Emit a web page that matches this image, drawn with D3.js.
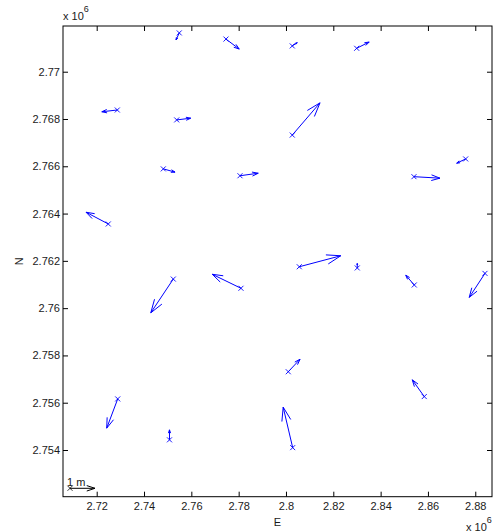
<!DOCTYPE html>
<html>
<head>
<meta charset="utf-8">
<script src="https://cdn.jsdelivr.net/npm/d3@7"></script>
<style>
  body { margin: 0; background: #fff; }
  svg text { font-family: "Liberation Sans", Arial, sans-serif; fill: #1a1a1a; }
</style>
</head>
<body>
<svg id="chart"></svg>
<script>
// station positions (m) and displacement vectors (m)
var east = [2754900, 2774640, 2802660, 2829880, 2728710, 2753810, 2802660, 2748150,
  2780560, 2854090, 2875940, 2724900, 2805620, 2830130, 2854220, 2884100, 2752370,
  2780980, 2800970, 2858440, 2802830, 2728880, 2750770];
var north = [2771640, 2771380, 2771090, 2770990, 2768380, 2767960, 2767320, 2765890,
  2765600, 2765560, 2766310, 2763560, 2761750, 2761700, 2760980, 2761470, 2761230,
  2760840, 2757310, 2756260, 2754100, 2756160, 2754430];
var du = [-0.13, 0.53, 0.20, 0.50, -0.62, 0.56, 1.11, 0.47, 0.73, 1.04, -0.36, -0.89,
  1.66, 0.00, -0.34, -0.63, -0.90, -1.15, 0.47, -0.48, -0.38, -0.44, 0.00];
var dv = [-0.28, -0.40, 0.13, 0.25, -0.07, 0.07, 1.29, -0.13, 0.10, -0.06, -0.17, 0.47,
  0.44, 0.18, 0.39, -0.96, -1.35, 0.56, 0.50, 0.67, 1.62, -1.17, 0.40];

// reference arrow
var refE = [2708720], refN = [2752380], refU = [1], refV = [0], refLabel = ["1 m"];

var xTicks = [2720000, 2740000, 2760000, 2780000, 2800000, 2820000, 2840000, 2860000, 2880000];
var xTickLabels = ["2.72", "2.74", "2.76", "2.78", "2.8", "2.82", "2.84", "2.86", "2.88"];
var yTicks = [2754000, 2756000, 2758000, 2760000, 2762000, 2764000, 2766000, 2768000, 2770000];
var yTickLabels = ["2.754", "2.756", "2.758", "2.76", "2.762", "2.764", "2.766", "2.768", "2.77"];

var W = 493, H = 532;
var margin = { left: 63, right: 1, top: 26, bottom: 35.3 },
  width = W - margin.left - margin.right,
  height = H - margin.top - margin.bottom;

var svg = d3.select("#chart").attr("width", W).attr("height", H);

var x = d3.scaleLinear().domain([2705760, 2887070]).range([0, width]);
var y = d3.scaleLinear().domain([2752025, 2771933]).range([height, 0]);
// arrow length in px per metre
var vlen = d3.scaleLinear().domain([0, 1]).range([0, 25]);

var g = svg.append("g").attr("transform", `translate(${margin.left},${margin.top})`);

// axes, ticks pointing inwards
g.append("g")
  .attr("transform", `translate(0,${height})`)
  .call(d3.axisBottom(x).tickValues(xTicks).tickSize(-5).tickPadding(6)
    .tickFormat((d, i) => xTickLabels[i]));
g.append("g")
  .call(d3.axisLeft(y).tickValues(yTicks).tickSize(-5).tickPadding(3)
    .tickFormat((d, i) => yTickLabels[i]));
g.append("g")
  .call(d3.axisTop(x).tickValues(xTicks).tickSize(-5).tickFormat(""));
g.append("g")
  .attr("transform", `translate(${width},0)`)
  .call(d3.axisRight(y).tickValues(yTicks).tickSize(-5).tickFormat(""));

g.selectAll(".domain").remove();
g.selectAll(".tick line").attr("stroke", "#000");
g.selectAll(".tick text").attr("font-size", 11).style("fill", "#1a1a1a")
  .attr("font-family", "Liberation Sans, Arial, sans-serif");

g.append("rect")
  .attr("width", width).attr("height", height)
  .attr("fill", "none").attr("stroke", "#000").attr("stroke-width", 1);

// arrow path: shaft plus open head (matlab quiver style)
function arrowPath(d) {
  var x0 = x(d.e), y0 = y(d.n);
  var dx = vlen(d.u), dy = -vlen(d.v);
  var x1 = x0 + dx, y1 = y0 + dy;
  var a = 0.33, b = 0.33;
  var h1x = x1 - a * (dx + b * dy), h1y = y1 - a * (dy - b * dx);
  var h2x = x1 - a * (dx - b * dy), h2y = y1 - a * (dy + b * dx);
  return `M${x0},${y0}L${x1},${y1}M${h1x},${h1y}L${x1},${y1}L${h2x},${h2y}`;
}
function markPath(d) {
  var x0 = x(d.e), y0 = y(d.n), s = 2.5;
  return `M${x0 - s},${y0 - s}L${x0 + s},${y0 + s}M${x0 - s},${y0 + s}L${x0 + s},${y0 - s}`;
}

var vecs = east.map((e, i) => ({ e: e, n: north[i], u: du[i], v: dv[i] }));

var arrows = g.append("g");
arrows.selectAll("path.vec")
  .data(vecs)
  .enter()
  .append("path")
  .attr("class", "vec")
  .attr("d", arrowPath)
  .attr("fill", "none")
  .attr("stroke", "#0000ff")
  .attr("stroke-width", 1);
arrows.selectAll("path.mark")
  .data(vecs)
  .enter()
  .append("path")
  .attr("class", "mark")
  .attr("d", markPath)
  .attr("fill", "none")
  .attr("stroke", "#0000ff")
  .attr("stroke-width", 0.9);

// scale arrow
var ref = refE.map((e, i) => ({ e: e, n: refN[i], u: refU[i], v: refV[i], label: refLabel[i] }));
var refG = g.append("g");
refG.selectAll("path.rvec").data(ref).enter().append("path")
  .attr("d", arrowPath).attr("fill", "none").attr("stroke", "#000");
refG.selectAll("path.rmark").data(ref).enter().append("path")
  .attr("d", markPath).attr("fill", "none").attr("stroke", "#000").attr("stroke-width", 0.8);
refG.selectAll("text").data(ref).enter().append("text")
  .attr("x", (d) => x(d.e) - 3)
  .attr("y", (d) => y(d.n) - 2)
  .attr("font-size", 11)
  .text((d) => d.label);

// axis labels
svg.append("text")
  .attr("x", margin.left + width / 2)
  .attr("y", 526)
  .attr("text-anchor", "middle")
  .attr("font-size", 11)
  .text("E");
svg.append("text")
  .attr("transform", `translate(22.5,${margin.top + height / 2}) rotate(-90)`)
  .attr("text-anchor", "middle")
  .attr("font-size", 11)
  .text("N");

// exponent labels
function expLabel(px, py) {
  var t = svg.append("text").attr("x", px).attr("y", py).attr("font-size", 11);
  t.append("tspan").text("x 10");
  t.append("tspan").attr("dy", -8).attr("font-size", 9).text("6");
}
expLabel(63, 20);
expLabel(466, 531);
</script>
</body>
</html>
